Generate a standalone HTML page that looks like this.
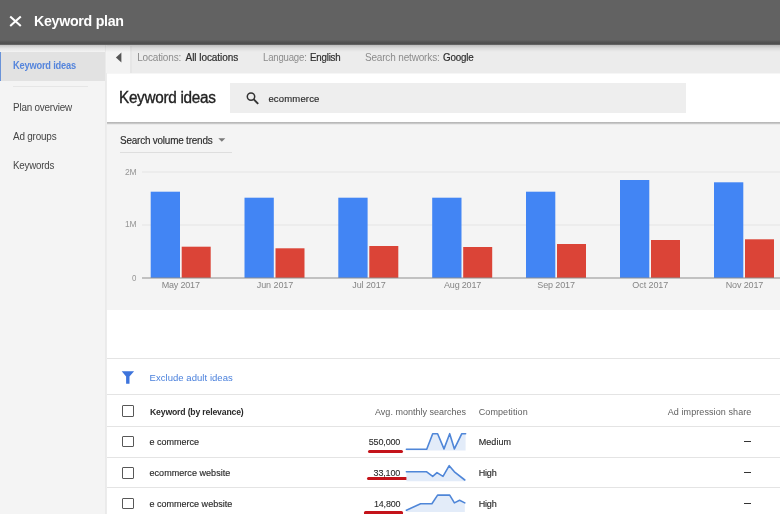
<!DOCTYPE html>
<html><head><meta charset="utf-8"><title>Keyword plan</title>
<style>
html,body{margin:0;padding:0;}
body{width:780px;height:514px;overflow:hidden;background:#f4f4f4;font-family:"Liberation Sans",Arial,sans-serif;color:#333;position:relative;}
.abs,.x{position:absolute;white-space:nowrap;}
.x{z-index:9;transform-origin:0 50%;}
#hdr{left:0;top:0;width:780px;height:45px;background:linear-gradient(#626262 0,#626262 40px,#535353 42px,#4e4e4e 44px,#777 45px);z-index:5;}
#hsh{left:0;top:45px;width:780px;height:7px;background:linear-gradient(rgba(0,0,0,.20),rgba(0,0,0,.07) 45%,rgba(0,0,0,0));z-index:4;}
#side{left:0;top:44px;width:105px;height:470px;background:#f4f4f4;border-right:1px solid #eaeaea;}
#sel{left:0;top:52px;width:105px;height:29px;background:#e2e2e2;border-left:1.5px solid #6a93d8;box-sizing:border-box;}
#tool{left:107px;top:44px;width:673px;height:29px;background:#ececec;}
#col{left:107px;top:46px;width:23px;height:27px;background:#f3f3f3;border-right:2px solid #e6e6e6;}
#card{left:107px;top:73px;width:673px;height:49px;background:linear-gradient(#f6f6f6 0,#f6f6f6 1px,#fff 1px);}
#csh{left:107px;top:122px;width:673px;height:3px;background:linear-gradient(#b6b6b6 0,#bcbcbc 1.2px,#e4e4e4 2.2px,#f4f4f4 3px);}
#sbox{left:229.5px;top:83px;width:456.5px;height:29.5px;background:#eeeeee;}
#svtl{left:119.5px;top:152px;width:112.5px;height:1px;background:#dedede;}
#chartbg{left:107px;top:122px;width:673px;height:188.5px;background:#f4f4f4;border-bottom:1.5px solid #e9e9e9;box-sizing:border-box;}
#white{left:107px;top:310px;width:673px;height:204px;background:#fff;}
#mleft{left:106px;top:73px;width:1px;height:441px;background:#ececec;}
.hl{left:107px;width:673px;height:1px;background:#e4e4e4;}
.cb{left:122.3px;width:11.7px;height:11.5px;border:1.6px solid #585858;box-sizing:border-box;border-radius:1px;}
.dash{left:744.3px;width:7px;height:1.2px;background:#333;}
.red{height:3px;background:#c4131a;border-radius:1.5px;}
</style></head><body>
<div id="side" class="abs"></div>
<div id="sel" class="abs"></div>
<div class="abs" style="left:13px;top:86.3px;width:75px;height:1px;background:#e6e6e6;"></div>

<div id="tool" class="abs"></div>
<div id="col" class="abs"></div>
<svg class="abs" style="left:115px;top:52px" width="8" height="11" viewBox="0 0 8 11"><path d="M6.4 0.4 L0.9 5.5 L6.4 10.6 Z" fill="#555"/></svg>

<div id="chartbg" class="abs"></div>
<div id="mleft" class="abs"></div>
<div id="card" class="abs"></div>
<div id="csh" class="abs"></div>
<div id="sbox" class="abs"></div>
<svg class="abs" style="left:245px;top:91px" width="15" height="15" viewBox="0 0 15 15"><circle cx="6" cy="5.6" r="3.7" fill="none" stroke="#333" stroke-width="1.5"/><path d="M8.8 8.4 L13.2 12.8" stroke="#333" stroke-width="1.9"/></svg>

<svg class="abs" style="left:218px;top:138px" width="8" height="5" viewBox="0 0 8 5"><path d="M0.3 0.3 L7.3 0.3 L3.8 3.8 Z" fill="#7a7a7a"/></svg>
<div id="svtl" class="abs"></div>

<svg class="abs" style="left:107px;top:122px" width="673" height="188" viewBox="107 122 673 188">
<g stroke="#e4e4e4" stroke-width="1"><path d="M142 172 H780"/><path d="M142 225 H780"/></g>
<g fill="#4285f4">
<rect x="150.7" y="191.7" width="29.3" height="86.3"/>
<rect x="244.5" y="197.7" width="29.3" height="80.3"/>
<rect x="338.3" y="197.7" width="29.3" height="80.3"/>
<rect x="432.2" y="197.7" width="29.3" height="80.3"/>
<rect x="526" y="191.7" width="29.3" height="86.3"/>
<rect x="620" y="180.0" width="29.3" height="98.0"/>
<rect x="714" y="182.3" width="29.3" height="95.7"/>
</g>
<g fill="#db4437">
<rect x="181.7" y="246.7" width="29" height="31.3"/>
<rect x="275.5" y="248.3" width="29" height="29.7"/>
<rect x="369.3" y="246.0" width="29" height="32.0"/>
<rect x="463.2" y="247.0" width="29" height="31.0"/>
<rect x="557" y="244.0" width="29" height="34.0"/>
<rect x="651" y="240.0" width="29" height="38.0"/>
<rect x="745" y="239.3" width="29" height="38.7"/>
</g>
<path d="M142 278 H780" stroke="#8e8e8e" stroke-width="1.2"/>
</svg>

<div id="white" class="abs"></div>
<div class="abs hl" style="top:358px"></div>
<div class="abs hl" style="top:394px"></div>
<div class="abs hl" style="top:426px"></div>
<div class="abs hl" style="top:457px"></div>
<div class="abs hl" style="top:487px"></div>

<svg class="abs" style="left:121px;top:371px" width="14" height="13" viewBox="0 0 14 13"><path d="M0.7 0.3 H13.1 L8.5 5.6 V12.7 H5.1 V5.6 Z" fill="#3d74dc"/></svg>

<div class="abs cb" style="top:405.3px"></div>
<div class="abs cb" style="top:435.6px"></div>
<div class="abs cb" style="top:467px"></div>
<div class="abs cb" style="top:497.6px"></div>

<div class="abs dash" style="top:441.3px"></div>
<div class="abs dash" style="top:472.3px"></div>
<div class="abs dash" style="top:503.2px"></div>

<div class="abs red" style="left:367.8px;top:449.8px;width:35.5px;"></div>
<div class="abs red" style="left:366.6px;top:476.6px;width:41px;"></div>
<div class="abs red" style="left:363.8px;top:511px;width:39.5px;height:4px;"></div>

<svg class="abs" style="left:400px;top:426px" width="70" height="88" viewBox="400 426 70 88">
<g fill="#e3ecf9">
<path d="M406.4 449.2 H426.7 L432.7 433.7 H437.6 L444 448.9 L449.7 433.7 L454.4 448.9 L461.8 433.7 H465.6 V450.6 H406.4 Z"/>
<path d="M406.4 471.8 H426.7 L432.7 476.4 L437 472.6 L443 476.4 L449.2 465.7 L454.4 471.8 L464.8 480 V481.3 H406.4 Z"/>
<path d="M406.4 510.2 L420.6 503.8 H431.9 L437.6 495.1 H449.7 L454.4 502.9 L459.6 500.3 L464.8 502.9 V512 H406.4 Z"/>
</g>
<g fill="none" stroke="#4f86d8" stroke-width="1.6" stroke-linejoin="round" stroke-linecap="round">
<path d="M406.4 449.2 H426.7 L432.7 433.7 H437.6 L444 448.9 L449.7 433.7 L454.4 448.9 L461.8 433.7 H465.6"/>
<path d="M406.4 471.8 H426.7 L432.7 476.4 L437 472.6 L443 476.4 L449.2 465.7 L454.4 471.8 L464.8 480"/>
<path d="M406.4 510.2 L420.6 503.8 H431.9 L437.6 495.1 H449.7 L454.4 502.9 L459.6 500.3 L464.8 502.9"/>
</g>
</svg>

<div id="hdr" class="abs">
<svg class="abs" style="left:9px;top:15px" width="13" height="13" viewBox="0 0 13 13"><path d="M1.2 1.5 L11.8 11.0 M11.8 1.5 L1.2 11.0" stroke="#fff" stroke-width="2.1" fill="none"/></svg>
</div>
<div id="hsh" class="abs"></div>
<div class="x" id="hd" style="left:34.2px;top:12.1px;font-size:15px;line-height:18px;font-weight:bold;color:#ffffff;letter-spacing:-0.30px;transform:scaleX(0.9468)">Keyword plan</div>
<div class="x" id="n1" style="left:13.1px;top:59.5px;font-size:10px;line-height:12px;font-weight:bold;color:#5585dc;letter-spacing:-0.20px;transform:scaleX(0.9268)">Keyword ideas</div>
<div class="x" id="n2" style="left:13.1px;top:101.5px;font-size:10px;line-height:12px;font-weight:normal;color:#454545;letter-spacing:-0.20px;transform:scaleX(0.9872)">Plan overview</div>
<div class="x" id="n3" style="left:13.1px;top:130.5px;font-size:10px;line-height:12px;font-weight:normal;color:#454545;letter-spacing:-0.20px;transform:scaleX(0.9910)">Ad groups</div>
<div class="x" id="n4" style="left:13.1px;top:160.1px;font-size:10px;line-height:12px;font-weight:normal;color:#454545;letter-spacing:-0.20px;transform:scaleX(0.9740)">Keywords</div>
<div class="x" id="t1" style="left:137.2px;top:52.2px;font-size:10px;line-height:12px;font-weight:normal;color:#8c8c8c;letter-spacing:-0.17px;transform:scaleX(1.0000)">Locations:</div>
<div class="x" id="t2" style="left:185.6px;top:52.2px;font-size:10px;line-height:12px;font-weight:normal;color:#2e2e2e;letter-spacing:-0.06px;transform:scaleX(1.0000);-webkit-text-stroke:0.20px #2e2e2e">All locations</div>
<div class="x" id="t3" style="left:262.6px;top:52.2px;font-size:10px;line-height:12px;font-weight:normal;color:#8c8c8c;letter-spacing:-0.20px;transform:scaleX(0.9588)">Language:</div>
<div class="x" id="t4" style="left:310.3px;top:52.2px;font-size:10px;line-height:12px;font-weight:normal;color:#2e2e2e;letter-spacing:-0.20px;transform:scaleX(0.9711);-webkit-text-stroke:0.20px #2e2e2e">English</div>
<div class="x" id="t5" style="left:364.9px;top:52.2px;font-size:10px;line-height:12px;font-weight:normal;color:#8c8c8c;letter-spacing:-0.16px;transform:scaleX(1.0000)">Search networks:</div>
<div class="x" id="t6" style="left:443.0px;top:52.2px;font-size:10px;line-height:12px;font-weight:normal;color:#2e2e2e;letter-spacing:-0.20px;transform:scaleX(0.9792);-webkit-text-stroke:0.20px #2e2e2e">Google</div>
<div class="x" id="ti" style="left:119.4px;top:87.6px;font-size:16px;line-height:19px;font-weight:normal;color:#222222;letter-spacing:-0.32px;transform:scaleX(0.9573);-webkit-text-stroke:0.35px #222222">Keyword ideas</div>
<div class="x" id="sq" style="left:268.4px;top:92.8px;font-size:9.5px;line-height:11px;font-weight:normal;color:#2b2b2b;letter-spacing:0.17px;transform:scaleX(1.0000);-webkit-text-stroke:0.15px #2b2b2b">ecommerce</div>
<div class="x" id="sv" style="left:119.7px;top:135.1px;font-size:10px;line-height:12px;font-weight:normal;color:#2b2b2b;letter-spacing:-0.20px;transform:scaleX(0.9916);-webkit-text-stroke:0.15px #2b2b2b">Search volume trends</div>
<div class="x" id="ex" style="left:149.5px;top:372.2px;font-size:9.5px;line-height:11px;font-weight:normal;color:#4a80dc;letter-spacing:0.05px;transform:scaleX(1.0000)">Exclude adult ideas</div>
<div class="x" id="kh" style="left:149.5px;top:406.8px;font-size:9px;line-height:11px;font-weight:bold;color:#2a2a2a;letter-spacing:-0.18px;transform:scaleX(0.9633)">Keyword (by relevance)</div>
<div class="x" id="ah" style="left:375.0px;top:406.8px;font-size:9px;line-height:11px;font-weight:normal;color:#606060;letter-spacing:0.01px;transform:scaleX(1.0000)">Avg. monthly searches</div>
<div class="x" id="ch" style="left:478.7px;top:406.8px;font-size:9px;line-height:11px;font-weight:normal;color:#606060;letter-spacing:0.10px;transform:scaleX(1.0000)">Competition</div>
<div class="x" id="ih" style="left:667.7px;top:406.8px;font-size:9px;line-height:11px;font-weight:normal;color:#606060;letter-spacing:0.09px;transform:scaleX(1.0000)">Ad impression share</div>
<div class="x" id="k1" style="left:149.5px;top:437.0px;font-size:9px;line-height:11px;font-weight:normal;color:#2b2b2b;letter-spacing:-0.00px;transform:scaleX(1.0000);-webkit-text-stroke:0.15px #2b2b2b">e commerce</div>
<div class="x" id="v1" style="left:368.7px;top:437.0px;font-size:9px;line-height:11px;font-weight:normal;color:#2b2b2b;letter-spacing:-0.14px;transform:scaleX(1.0000);-webkit-text-stroke:0.10px #2b2b2b">550,000</div>
<div class="x" id="c1" style="left:478.7px;top:437.0px;font-size:9px;line-height:11px;font-weight:normal;color:#2b2b2b;letter-spacing:0.06px;transform:scaleX(1.0000);-webkit-text-stroke:0.15px #2b2b2b">Medium</div>
<div class="x" id="k2" style="left:149.5px;top:468.0px;font-size:9px;line-height:11px;font-weight:normal;color:#2b2b2b;letter-spacing:0.05px;transform:scaleX(1.0000);-webkit-text-stroke:0.15px #2b2b2b">ecommerce website</div>
<div class="x" id="v2" style="left:373.5px;top:468.0px;font-size:9px;line-height:11px;font-weight:normal;color:#2b2b2b;letter-spacing:-0.13px;transform:scaleX(1.0000);-webkit-text-stroke:0.10px #2b2b2b">33,100</div>
<div class="x" id="c2" style="left:478.7px;top:468.0px;font-size:9px;line-height:11px;font-weight:normal;color:#2b2b2b;letter-spacing:-0.17px;transform:scaleX(1.0000);-webkit-text-stroke:0.15px #2b2b2b">High</div>
<div class="x" id="k3" style="left:149.5px;top:498.9px;font-size:9px;line-height:11px;font-weight:normal;color:#2b2b2b;letter-spacing:0.01px;transform:scaleX(1.0000);-webkit-text-stroke:0.15px #2b2b2b">e commerce website</div>
<div class="x" id="v3" style="left:373.9px;top:498.9px;font-size:9px;line-height:11px;font-weight:normal;color:#2b2b2b;letter-spacing:-0.18px;transform:scaleX(0.9951);-webkit-text-stroke:0.10px #2b2b2b">14,800</div>
<div class="x" id="c3" style="left:478.7px;top:498.9px;font-size:9px;line-height:11px;font-weight:normal;color:#2b2b2b;letter-spacing:-0.17px;transform:scaleX(1.0000);-webkit-text-stroke:0.15px #2b2b2b">High</div>
<div class="x" id="y2" style="left:125.0px;top:167.0px;font-size:9px;line-height:11px;font-weight:normal;color:#969696;letter-spacing:-0.18px;transform:scaleX(0.9485)">2M</div>
<div class="x" id="y1" style="left:125.0px;top:219.0px;font-size:9px;line-height:11px;font-weight:normal;color:#969696;letter-spacing:-0.18px;transform:scaleX(0.9485)">1M</div>
<div class="x" id="y0" style="left:132.3px;top:273.1px;font-size:9px;line-height:11px;font-weight:normal;color:#969696;letter-spacing:0.00px;transform:scaleX(0.8773)">0</div>
<div class="x" id="m1" style="left:161.7px;top:280.4px;font-size:9px;line-height:11px;font-weight:normal;color:#858585;letter-spacing:-0.18px;transform:scaleX(1.0000)">May 2017</div>
<div class="x" id="m2" style="left:256.7px;top:280.4px;font-size:9px;line-height:11px;font-weight:normal;color:#858585;letter-spacing:-0.06px;transform:scaleX(1.0000)">Jun 2017</div>
<div class="x" id="m3" style="left:352.3px;top:280.4px;font-size:9px;line-height:11px;font-weight:normal;color:#858585;letter-spacing:-0.09px;transform:scaleX(1.0000)">Jul 2017</div>
<div class="x" id="m4" style="left:444.0px;top:280.4px;font-size:9px;line-height:11px;font-weight:normal;color:#858585;letter-spacing:-0.18px;transform:scaleX(1.0000)">Aug 2017</div>
<div class="x" id="m5" style="left:537.3px;top:280.4px;font-size:9px;line-height:11px;font-weight:normal;color:#858585;letter-spacing:-0.12px;transform:scaleX(1.0000)">Sep 2017</div>
<div class="x" id="m6" style="left:632.3px;top:280.4px;font-size:9px;line-height:11px;font-weight:normal;color:#858585;letter-spacing:-0.08px;transform:scaleX(1.0000)">Oct 2017</div>
<div class="x" id="m7" style="left:725.7px;top:280.4px;font-size:9px;line-height:11px;font-weight:normal;color:#858585;letter-spacing:-0.13px;transform:scaleX(1.0000)">Nov 2017</div>
</body></html>
